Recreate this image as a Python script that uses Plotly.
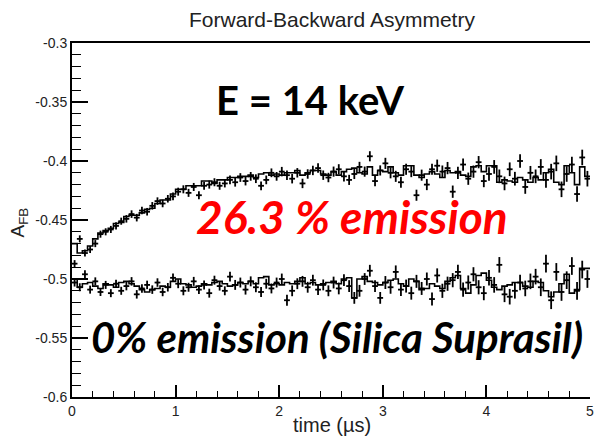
import numpy as np
import plotly.graph_objects as go

# Time bins: 100 bins of 0.05 us between 0 and 5 us
bin_width = 0.05
bin_edges = np.round(np.arange(0, 5.0001, bin_width), 4)
bin_centers = bin_edges[:-1] + bin_width / 2

# 26.3 % emission sample: measured points (crosses) and histogram outline
upper_points = [
    -0.487, -0.466, -0.478, -0.475, -0.470, -0.462, -0.460, -0.458, -0.455, -0.451,
    -0.449, -0.445, -0.448, -0.442, -0.443, -0.438, -0.434, -0.436, -0.432, -0.430,
    -0.426, -0.424, -0.427, -0.422, -0.429, -0.421, -0.420, -0.418, -0.421, -0.419,
    -0.416, -0.418, -0.414, -0.417, -0.413, -0.415, -0.421, -0.416, -0.410, -0.413,
    -0.409, -0.412, -0.415, -0.410, -0.419, -0.411, -0.408, -0.406, -0.412, -0.414,
    -0.409, -0.407, -0.413, -0.416, -0.411, -0.405, -0.409, -0.396, -0.417, -0.408,
    -0.402, -0.410, -0.413, -0.418, -0.407, -0.409, -0.429, -0.412, -0.420, -0.407,
    -0.404, -0.409, -0.406, -0.426, -0.410, -0.403, -0.415, -0.409, -0.401, -0.417,
    -0.411, -0.405, -0.413, -0.419, -0.407, -0.415, -0.400, -0.422, -0.410, -0.413,
    -0.405, -0.416, -0.409, -0.402, -0.424, -0.411, -0.403, -0.428, -0.397, -0.415,
]
upper_err_by_block = [0.0030, 0.0032, 0.0034, 0.0037, 0.0040, 0.0043, 0.0047, 0.0052, 0.0058, 0.0066]
upper_hist = [
    -0.470, -0.478, -0.476, -0.472, -0.466, -0.461, -0.459, -0.457, -0.453, -0.452,
    -0.447, -0.446, -0.446, -0.444, -0.441, -0.440, -0.436, -0.433, -0.433, -0.428,
    -0.424, -0.424, -0.421, -0.421, -0.421, -0.417, -0.417, -0.419, -0.416, -0.416,
    -0.414, -0.414, -0.413, -0.413, -0.412, -0.414, -0.411, -0.410, -0.412, -0.411,
    -0.412, -0.410, -0.410, -0.408, -0.412, -0.410, -0.408, -0.408, -0.411, -0.412,
    -0.409, -0.412, -0.409, -0.407, -0.406, -0.410, -0.411, -0.405, -0.412, -0.408,
    -0.409, -0.405, -0.410, -0.412, -0.404, -0.404, -0.412, -0.414, -0.411, -0.409,
    -0.411, -0.414, -0.408, -0.410, -0.409, -0.412, -0.413, -0.405, -0.404, -0.409,
    -0.404, -0.404, -0.418, -0.416, -0.417, -0.418, -0.414, -0.416, -0.418, -0.414,
    -0.416, -0.410, -0.407, -0.418, -0.420, -0.404, -0.410, -0.420, -0.405, -0.413,
]

# 0 % emission reference (Silica Suprasil)
lower_points = [
    -0.503, -0.507, -0.496, -0.509, -0.502, -0.511, -0.505, -0.512, -0.504, -0.510,
    -0.506, -0.502, -0.513, -0.508, -0.505, -0.509, -0.503, -0.511, -0.507, -0.499,
    -0.504, -0.510, -0.507, -0.502, -0.509, -0.505, -0.512, -0.501, -0.506, -0.510,
    -0.498, -0.505, -0.503, -0.509, -0.502, -0.507, -0.511, -0.504, -0.508, -0.503,
    -0.500, -0.518, -0.510, -0.504, -0.502, -0.507, -0.501, -0.509, -0.505, -0.510,
    -0.503, -0.508, -0.501, -0.506, -0.516, -0.510, -0.500, -0.493, -0.506, -0.516,
    -0.503, -0.507, -0.494, -0.509, -0.506, -0.512, -0.502, -0.508, -0.500, -0.517,
    -0.497, -0.510, -0.504, -0.501, -0.494, -0.509, -0.503, -0.496, -0.507, -0.512,
    -0.499, -0.505, -0.488, -0.513, -0.515, -0.510, -0.503, -0.508, -0.502, -0.498,
    -0.507, -0.487, -0.518, -0.494, -0.511, -0.501, -0.489, -0.510, -0.492, -0.500,
]
lower_err_by_block = [0.0034, 0.0036, 0.0038, 0.0042, 0.0046, 0.0050, 0.0055, 0.0060, 0.0066, 0.0075]
lower_hist = [
    -0.500, -0.507, -0.504, -0.503, -0.506, -0.508, -0.504, -0.505, -0.507, -0.503,
    -0.502, -0.504, -0.506, -0.509, -0.511, -0.509, -0.508, -0.506, -0.507, -0.502,
    -0.500, -0.504, -0.505, -0.507, -0.506, -0.504, -0.505, -0.503, -0.502, -0.504,
    -0.506, -0.505, -0.503, -0.504, -0.502, -0.504, -0.499, -0.498, -0.505, -0.504,
    -0.505, -0.503, -0.504, -0.502, -0.499, -0.504, -0.503, -0.505, -0.504, -0.503,
    -0.502, -0.504, -0.500, -0.499, -0.516, -0.500, -0.498, -0.502, -0.503, -0.505,
    -0.503, -0.501, -0.500, -0.504, -0.506, -0.500, -0.502, -0.509, -0.508, -0.504,
    -0.506, -0.508, -0.502, -0.499, -0.497, -0.508, -0.512, -0.505, -0.497, -0.495,
    -0.501, -0.507, -0.509, -0.506, -0.505, -0.503, -0.503, -0.506, -0.507, -0.502,
    -0.503, -0.510, -0.515, -0.511, -0.504, -0.496, -0.512, -0.509, -0.491, -0.491,
]

upper_err = np.repeat(upper_err_by_block, 10)
lower_err = np.repeat(lower_err_by_block, 10)

INK = "black"
fig = go.Figure()


def add_series(points, errors, hist):
    # histogram outline drawn as steps over the bin edges
    fig.add_trace(go.Scatter(
        x=bin_edges, y=list(hist) + [hist[-1]], mode="lines",
        line=dict(color=INK, width=1.6, shape="hv"), hoverinfo="skip",
    ))
    # measured points as crosses: bin half-width and statistical error
    fig.add_trace(go.Scatter(
        x=bin_centers, y=points, mode="markers",
        marker=dict(size=2, color=INK),
        error_x=dict(type="constant", value=0.028, color=INK, thickness=1.8, width=0),
        error_y=dict(type="data", array=errors, color=INK, thickness=1.8, width=0),
    ))


add_series(upper_points, upper_err, upper_hist)
add_series(lower_points, lower_err, lower_hist)

AXIS_FONT = dict(family="Liberation Sans, Arial, sans-serif", size=14, color="#222")
fig.update_xaxes(
    range=[0, 5], tickvals=[0, 1, 2, 3, 4, 5], ticktext=["0", "1", "2", "3", "4", "5"],
    ticks="inside", ticklen=12, tickwidth=1.6, tickcolor=INK,
    minor=dict(dtick=0.2, ticks="inside", ticklen=6.5, tickwidth=1.4, tickcolor=INK),
    showline=True, linecolor=INK, linewidth=2, mirror=True,
    showgrid=False, zeroline=False, tickfont=AXIS_FONT, ticklabeloverflow="allow",
)
fig.update_yaxes(
    range=[-0.6, -0.3], tickvals=[-0.6, -0.55, -0.5, -0.45, -0.4, -0.35, -0.3],
    ticktext=["-0.6", "-0.55", "-0.5", "-0.45", "-0.4", "-0.35", "-0.3"],
    ticks="inside", ticklen=16, tickwidth=1.6, tickcolor=INK,
    minor=dict(dtick=0.01, ticks="inside", ticklen=8.5, tickwidth=1.4, tickcolor=INK),
    showline=True, linecolor=INK, linewidth=2,
    showgrid=False, zeroline=False, tickfont=AXIS_FONT,
)

LABEL_FONT = "Liberation Sans, Arial, sans-serif"
BIG_FONT = "Lato, Carlito, sans-serif"
annotations = [
    dict(text="Forward-Backward Asymmetry", xref="paper", yref="paper", x=0.502, y=1.065,
         font=dict(family=LABEL_FONT, size=21, color="#222")),
    dict(text="time (\u00b5s)", xref="paper", yref="paper", x=0.502, y=-0.079,
         font=dict(family=LABEL_FONT, size=20, color="#222")),
    dict(text="A<sub>FB</sub>", xref="paper", yref="paper", x=-0.1015, y=0.494, textangle=-90,
         font=dict(family=LABEL_FONT, size=19, color="#222")),
    dict(text="<b>E = 14 keV</b>", xref="x", yref="y", x=2.30, y=-0.3486,
         font=dict(family=BIG_FONT, size=40, color="black")),
    dict(text="<b><i>26.3 % emission</i></b>", xref="x", yref="y", x=2.70, y=-0.4469,
         font=dict(family=BIG_FONT, size=46, color="#ff0000")),
    dict(text="<b><i>0% emission (Silica Suprasil)</i></b>", xref="x", yref="y", x=2.557, y=-0.5494,
         font=dict(family=BIG_FONT, size=42, color="black")),
]
for a in annotations:
    a["showarrow"] = False
    a["xanchor"] = "center"
    a["yanchor"] = "middle"
fig.update_layout(
    annotations=annotations,
    width=594, height=437,
    margin=dict(l=72, r=0, t=43, b=40),
    paper_bgcolor="white", plot_bgcolor="white",
    showlegend=False,
)

fig.write_html("out.html")
